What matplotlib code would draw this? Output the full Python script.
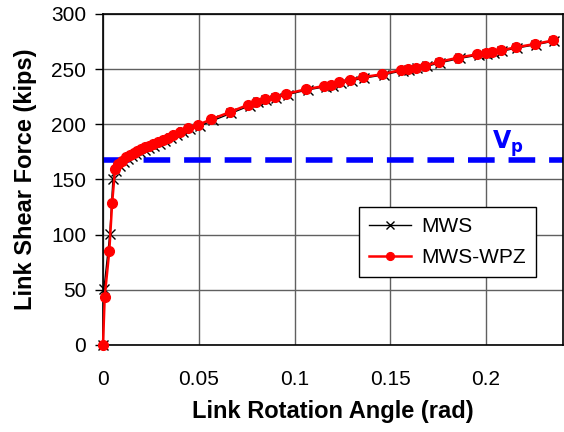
import matplotlib.pyplot as plt

plt.rcParams['font.family'] = ['Liberation Sans', 'DejaVu Sans']

# Link rotation angle (rad) and shear force (kips)
mws_x = [0.0, 0.0005, 0.0036, 0.0052, 0.0068, 0.0088, 0.0108, 0.0128, 0.0150, 0.0172,
         0.0195, 0.0218, 0.0242, 0.0268, 0.0296, 0.0325, 0.0354, 0.0385, 0.0418, 0.0452,
         0.0505, 0.0575, 0.0668, 0.0765, 0.0810, 0.0852, 0.0905, 0.0965, 0.1068, 0.1165,
         0.1200, 0.1242, 0.1298, 0.1365, 0.1465, 0.1565, 0.1598, 0.1642, 0.1690, 0.1760,
         0.1865, 0.1962, 0.2005, 0.2040, 0.2085, 0.2162, 0.2262, 0.2355]
mws_y = [0.0, 50.8, 101.0, 150.5, 158.0, 162.5, 165.5, 168.5, 171.0, 173.0,
         175.0, 176.8, 178.5, 180.5, 182.5, 185.0, 187.5, 190.0, 192.8, 195.5,
         198.5, 203.5, 210.0, 216.8, 219.8, 222.2, 224.0, 227.0, 231.2, 234.2,
         235.0, 237.3, 239.6, 242.0, 244.8, 248.6, 249.6, 250.8, 252.5, 255.8,
         259.8, 262.8, 263.8, 265.0, 266.4, 269.2, 272.2, 275.5]

wpz_x = [0.0, 0.0009, 0.0033, 0.0048, 0.0063, 0.0080, 0.0100, 0.0120, 0.0140, 0.0160,
         0.0180, 0.0200, 0.0220, 0.0240, 0.0262, 0.0288, 0.0314, 0.0340, 0.0366, 0.0401,
         0.0444, 0.0496, 0.0566, 0.0661, 0.0757, 0.0800, 0.0844, 0.0896, 0.0957, 0.1060,
         0.1156, 0.1190, 0.1234, 0.1290, 0.1356, 0.1457, 0.1556, 0.1590, 0.1634, 0.1680,
         0.1752, 0.1856, 0.1955, 0.1998, 0.2033, 0.2077, 0.2155, 0.2255, 0.2349]
wpz_y = [0.0, 43.8, 85.5, 129.0, 159.6, 164.0, 167.0, 170.0, 172.3, 174.3,
         176.2, 177.8, 179.3, 180.7, 181.8, 183.6, 185.8, 188.0, 190.4, 193.4,
         196.4, 199.5, 204.6, 211.0, 217.6, 220.6, 223.0, 224.6, 227.6, 231.8,
         234.8, 235.7, 238.0, 240.3, 242.7, 245.4, 249.3, 250.2, 251.4, 253.2,
         256.5, 260.5, 263.5, 264.4, 265.6, 267.0, 269.8, 272.8, 276.0]

vp = 168

fig = plt.figure(figsize=(5.64, 4.32), dpi=100)
ax = fig.add_axes([0.1826, 0.2014, 0.815, 0.7662])

ax.axhline(vp, color='#0000ff', lw=4, dashes=(4.8, 2.5), zorder=2)
ax.plot(mws_x, mws_y, color='black', lw=1, marker='x', ms=7, mew=1, label='MWS',
        zorder=3, clip_on=False)
ax.plot(wpz_x, wpz_y, color='#ff0000', lw=1.8, marker='o', ms=7, mec='#ff0000',
        label='MWS-WPZ', zorder=4, clip_on=False)
ax.text(0.203, 178, r'$\mathbf{V_p}$', color='#0000ff', fontsize=17, fontweight='bold')

ax.set_xlim(0, 0.24)
ax.set_ylim(0, 300)
ax.set_xticks([0, 0.05, 0.1, 0.15, 0.2])
ax.set_xticklabels(['0', '0.05', '0.1', '0.15', '0.2'])
ax.set_yticks(range(0, 301, 50))
ax.tick_params(axis='y', direction='out', length=6, width=1, labelsize=15, pad=6)
ax.tick_params(axis='x', length=0, labelsize=15, pad=18)
ax.grid(True, color='#606060', lw=1)
ax.set_axisbelow(True)
for s in ax.spines.values():
    s.set_linewidth(1.2)

ax.set_xlabel('Link Rotation Angle (rad)', fontsize=17, fontweight='bold', labelpad=8)
ax.set_ylabel('Link Shear Force (kips)', fontsize=17, fontweight='bold', labelpad=10)

leg = ax.legend(loc='upper left', bbox_to_anchor=(0.5565, 0.417), borderaxespad=0,
                fontsize=15, frameon=True, fancybox=False, edgecolor='black',
                framealpha=1, borderpad=0.5, handlelength=2.0, handletextpad=0.5,
                markerscale=0.8, labelspacing=0.55)
leg.get_frame().set_linewidth(1)

plt.savefig('out.png', dpi=100)
